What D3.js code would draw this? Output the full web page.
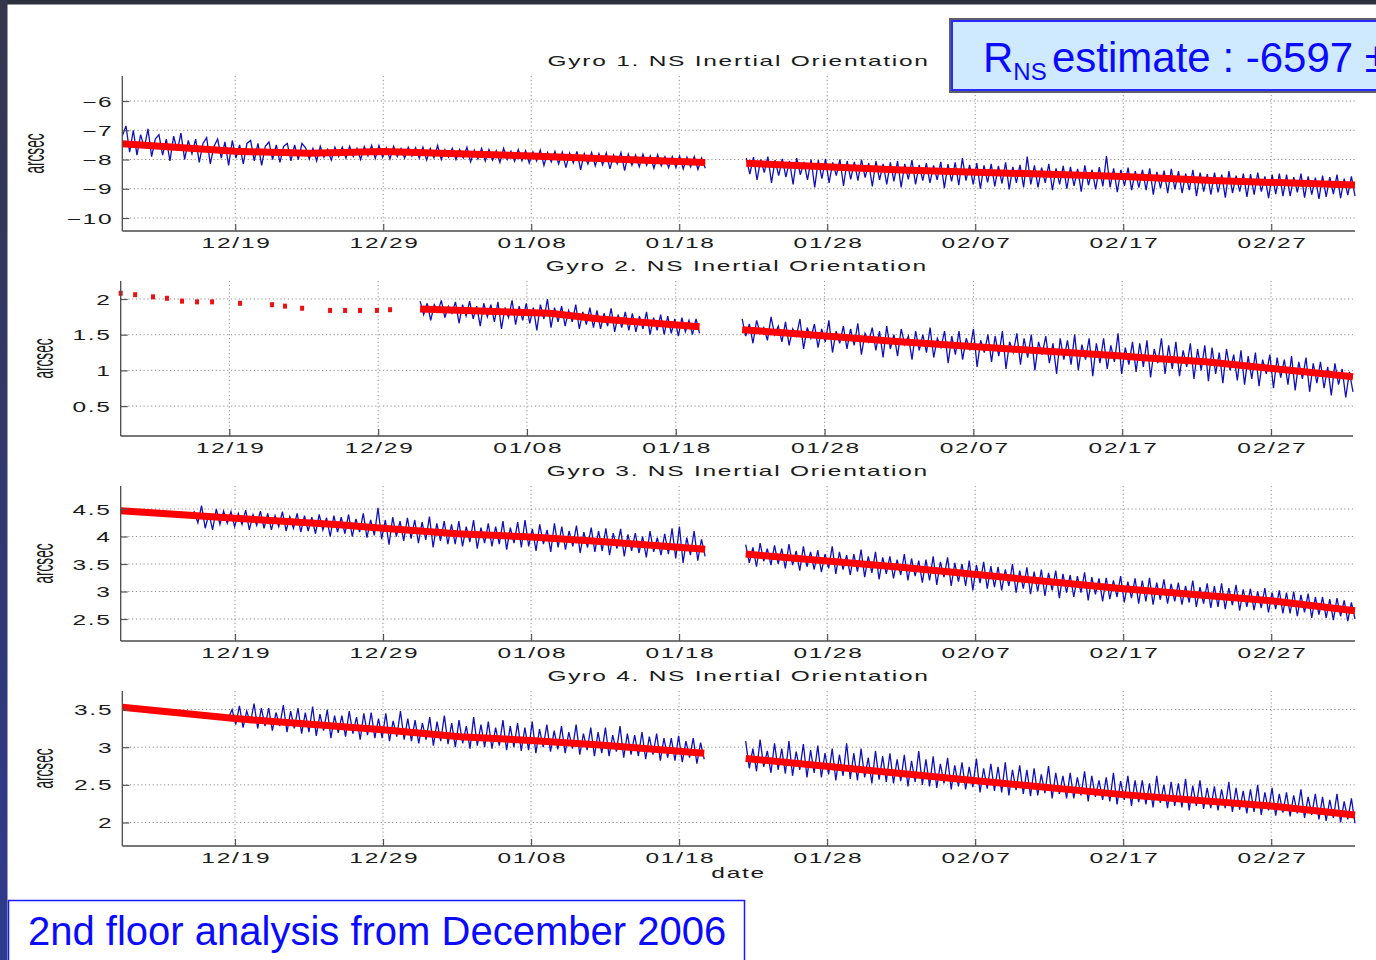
<!DOCTYPE html>
<html>
<head>
<meta charset="utf-8">
<script src="https://cdn.jsdelivr.net/npm/d3@7"></script>
<style>
  body { margin: 0; background: #ffffff; }
  svg { display: block; }
</style>
</head>
<body>
<svg id="chart" width="1376" height="960"></svg>
<script>
// ---- Time base: all sample times are days after 19 Dec 2006 (UTC) ----
const EPOCH = Date.UTC(2006, 11, 19);
const tickDays = [0, 10, 20, 30, 40, 50, 60, 70];
const tickLabels = ["12/19", "12/29", "01/08", "01/18", "01/28", "02/07", "02/17", "02/27"];

const titles = [
  "Gyro 1. NS Inertial Orientation",
  "Gyro 2. NS Inertial Orientation",
  "Gyro 3. NS Inertial Orientation",
  "Gyro 4. NS Inertial Orientation"
];
const yTicks = [
  [-6, -7, -8, -9, -10],
  [2, 1.5, 1, 0.5],
  [4.5, 4, 3.5, 3, 2.5],
  [3.5, 3, 2.5, 2]
];
const yLimits = [
  [-10.444, -5.145],
  [0.081, 2.252],
  [2.1, 4.918],
  [1.688, 3.746]
];

// ---- Gyro 1 (arcsec); each segment is evenly sampled over its [first, last] day span ----
const gyro1Seg1Days = [-7.63, 31.76];
const gyro1Seg1 = [
  -7.20, -6.85, -7.75, -7.00, -7.85, -7.15, -7.60, -6.95, -7.90, -7.30,
  -7.15, -7.85, -7.30, -8.05, -7.20, -7.70, -7.10, -8.00, -7.35, -7.80,
  -7.30, -8.10, -7.45, -7.25, -8.15, -7.55, -7.30, -7.95, -7.40, -8.20,
  -7.35, -7.95, -7.50, -8.15, -7.45, -7.35, -8.05, -7.45, -8.20, -7.55,
  -7.40, -8.00, -7.50, -8.10, -7.55, -7.45, -8.05, -7.50, -8.00, -7.45,
  -7.60, -7.98, -7.62, -8.05, -7.55, -7.92, -7.65, -8.02, -7.58, -7.90,
  -7.58, -7.95, -7.55, -7.90, -7.62, -8.00, -7.56, -7.88, -7.52, -7.96,
  -7.52, -7.92, -7.60, -7.98, -7.55, -7.90, -7.62, -7.95, -7.58, -7.88,
  -7.60, -7.95, -7.58, -8.02, -7.62, -7.94, -7.52, -8.00, -7.66, -7.92,
  -7.62, -8.00, -7.66, -7.95, -7.58, -8.08, -7.68, -7.98, -7.62, -8.05,
  -7.66, -8.02, -7.70, -8.10, -7.62, -8.00, -7.72, -8.06, -7.66, -8.04,
  -7.70, -8.12, -7.74, -8.05, -7.68, -8.20, -7.76, -8.08, -7.72, -8.15,
  -7.75, -8.28, -7.78, -8.12, -7.72, -8.35, -7.80, -8.15, -7.76, -8.22,
  -7.80, -8.18, -7.78, -8.32, -7.85, -8.15, -7.76, -8.38, -7.82, -8.20,
  -7.85, -8.25, -7.82, -8.20, -7.88, -8.30, -7.84, -8.22, -7.90, -8.28,
  -7.90, -8.28, -7.88, -8.32, -7.92, -8.25, -7.90, -8.34, -7.95, -8.30
];
const gyro1Seg2Days = [34.53, 75.66];
const gyro1Seg2 = [
  -7.95, -8.50, -7.92, -8.70, -8.00, -8.45, -7.90, -8.80, -8.02, -8.55,
  -7.98, -8.60, -8.05, -8.85, -7.95, -8.52, -8.08, -8.70, -8.00, -8.95,
  -8.02, -8.65, -7.98, -8.80, -8.10, -8.55, -8.00, -8.90, -8.05, -8.68,
  -8.08, -8.72, -8.00, -8.62, -8.12, -8.92, -8.05, -8.70, -8.15, -8.85,
  -8.10, -8.75, -8.05, -8.95, -8.15, -8.68, -8.02, -8.85, -8.18, -8.72,
  -8.12, -8.80, -8.20, -8.70, -8.08, -8.98, -8.16, -8.75, -8.10, -8.88,
  -7.95, -8.72, -8.18, -8.85, -8.12, -9.00, -8.20, -8.78, -8.15, -8.92,
  -8.22, -8.82, -8.10, -9.02, -8.25, -8.80, -8.18, -8.95, -7.90, -8.85,
  -8.20, -8.95, -8.28, -8.80, -8.15, -9.05, -8.30, -8.85, -8.22, -9.00,
  -8.25, -8.90, -8.32, -9.10, -8.20, -8.88, -8.35, -9.02, -8.26, -8.92,
  -7.88, -8.95, -8.30, -9.12, -8.35, -8.90, -8.28, -9.05, -8.40, -8.96,
  -8.35, -9.05, -8.30, -9.20, -8.42, -8.98, -8.38, -9.15, -8.32, -9.02,
  -8.40, -9.15, -8.48, -9.05, -8.35, -9.25, -8.45, -9.10, -8.50, -9.20,
  -8.45, -9.12, -8.52, -9.30, -8.40, -9.15, -8.55, -9.10, -8.48, -9.28,
  -8.50, -9.20, -8.45, -9.10, -8.58, -9.32, -8.52, -9.18, -8.48, -9.25,
  -8.52, -9.25, -8.60, -9.12, -8.48, -9.30, -8.58, -9.20, -8.62, -9.35,
  -8.55, -9.28, -8.60, -9.18, -8.52, -9.32, -8.65, -9.22, -8.58, -9.25
];
const gyro1Fit1 = [[-7.63, -7.46], [0, -7.72], [5, -7.79], [10, -7.73], [15, -7.80], [20, -7.88], [31.76, -8.10]];
const gyro1Fit2 = [[34.53, -8.13], [45, -8.36], [60, -8.58], [66, -8.72], [75.66, -8.87]];

// ---- Gyro 2 (arcsec) ----
const gyro2DotDays = [-7.30, -6.33, -5.13, -4.19, -3.18, -2.17, -1.16, 0.72, 2.87, 3.74, 4.89, 6.77, 7.78, 8.78, 9.92, 10.80];
const gyro2Dots = [2.08, 2.06, 2.03, 2.01, 1.97, 1.96, 1.96, 1.94, 1.92, 1.90, 1.87, 1.84, 1.84, 1.84, 1.84, 1.85];
const gyro2Seg1Days = [12.82, 31.6];
const gyro2Seg1 = [
  1.97, 1.78, 1.94, 1.70, 1.92, 1.82, 1.98, 1.74, 1.90, 1.80,
  1.96, 1.66, 1.92, 1.76, 1.97, 1.72, 1.90, 1.62, 1.94, 1.75,
  1.92, 1.68, 1.96, 1.58, 1.88, 1.74, 1.98, 1.64, 1.90, 1.70,
  1.94, 1.66, 1.88, 1.56, 1.92, 1.72, 2.00, 1.60, 1.88, 1.68,
  1.90, 1.62, 1.84, 1.68, 1.92, 1.58, 1.82, 1.64, 1.88, 1.60,
  1.84, 1.58, 1.80, 1.62, 1.87, 1.54, 1.78, 1.60, 1.82, 1.56,
  1.80, 1.54, 1.76, 1.58, 1.82, 1.50, 1.74, 1.56, 1.78, 1.50,
  1.76, 1.52, 1.72, 1.48, 1.74, 1.54, 1.70, 1.50, 1.72, 1.52
];
const gyro2Seg2Days = [34.46, 75.51];
const gyro2Seg2 = [
  1.72, 1.48, 1.65, 1.38, 1.70, 1.52, 1.60, 1.42, 1.75, 1.50,
  1.62, 1.40, 1.68, 1.35, 1.58, 1.48, 1.72, 1.30, 1.60, 1.45,
  1.65, 1.32, 1.58, 1.40, 1.70, 1.25, 1.55, 1.38, 1.62, 1.30,
  1.58, 1.35, 1.66, 1.22, 1.52, 1.40, 1.60, 1.28, 1.55, 1.18,
  1.62, 1.30, 1.50, 1.20, 1.58, 1.36, 1.48, 1.15, 1.55, 1.28,
  1.50, 1.25, 1.60, 1.18, 1.45, 1.32, 1.55, 1.10, 1.48, 1.22,
  1.55, 1.15, 1.45, 1.28, 1.58, 1.05, 1.42, 1.25, 1.50, 1.12,
  1.48, 1.20, 1.55, 1.02, 1.40, 1.25, 1.52, 1.08, 1.45, 1.18,
  1.50, 1.00, 1.40, 1.22, 1.48, 1.10, 1.38, 0.95, 1.45, 1.15,
  1.42, 1.08, 1.50, 1.00, 1.36, 1.15, 1.45, 0.92, 1.38, 1.10,
  1.45, 1.02, 1.35, 1.12, 1.52, 0.95, 1.32, 1.08, 1.40, 0.98,
  1.38, 1.05, 1.42, 0.90, 1.30, 1.10, 1.45, 0.95, 1.35, 1.02,
  1.40, 0.92, 1.28, 1.05, 1.38, 0.88, 1.30, 1.00, 1.35, 0.85,
  1.32, 0.95, 1.25, 0.82, 1.30, 1.00, 1.22, 0.86, 1.28, 0.80,
  1.20, 0.88, 1.25, 0.78, 1.15, 0.95, 1.22, 0.75, 1.18, 0.90,
  1.15, 0.80, 1.20, 0.72, 1.12, 0.88, 1.18, 0.70, 1.10, 0.82,
  1.12, 0.75, 1.05, 0.65, 1.10, 0.80, 1.02, 0.62, 0.98, 0.70
];
const gyro2Fit1 = [[12.82, 1.86], [21.55, 1.80], [24.9, 1.72], [31.6, 1.61]];
const gyro2Fit2 = [[34.46, 1.57], [38.35, 1.51], [45.07, 1.40], [59.99, 1.20], [61.2, 1.18], [65.6, 1.12], [69.9, 1.03], [75.51, 0.91]];

// ---- Gyro 3 (arcsec) ----
const gyro3Seg1Days = [-7.72, 31.76];
const gyro3Seg1 = [
  4.48, 4.46, 4.47, 4.45, 4.46, 4.44, 4.45, 4.43, 4.45, 4.42,
  4.44, 4.41, 4.43, 4.40, 4.42, 4.38, 4.41, 4.37, 4.40, 4.38,
  4.45, 4.25, 4.56, 4.15, 4.42, 4.12, 4.50, 4.22, 4.46, 4.24,
  4.45, 4.18, 4.42, 4.22, 4.48, 4.12, 4.40, 4.20, 4.46, 4.15,
  4.42, 4.12, 4.38, 4.18, 4.45, 4.10, 4.36, 4.15, 4.42, 4.08,
  4.38, 4.10, 4.35, 4.05, 4.40, 4.12, 4.34, 4.00, 4.38, 4.08,
  4.35, 4.05, 4.40, 4.00, 4.32, 4.08, 4.42, 3.98, 4.30, 4.02,
  4.52, 3.95, 4.30, 3.85, 4.35, 4.00, 4.28, 3.92, 4.34, 3.96,
  4.30, 3.88, 4.26, 3.94, 4.36, 3.80, 4.24, 3.92, 4.28, 3.86,
  4.22, 3.86, 4.28, 3.82, 4.18, 3.90, 4.30, 3.78, 4.16, 3.88,
  4.24, 3.82, 4.18, 3.86, 4.28, 3.76, 4.16, 3.88, 4.26, 3.80,
  4.30, 3.82, 4.14, 3.74, 4.22, 3.86, 4.12, 3.72, 4.24, 3.80,
  4.18, 3.76, 4.10, 3.82, 4.20, 3.70, 4.08, 3.80, 4.16, 3.72,
  4.10, 3.74, 4.15, 3.66, 4.06, 3.78, 4.14, 3.64, 4.04, 3.74,
  4.06, 3.70, 4.00, 3.62, 4.10, 3.72, 3.98, 3.66, 4.05, 3.68,
  4.15, 3.60, 4.18, 3.52, 3.98, 3.66, 4.10, 3.56, 3.95, 3.64
];
const gyro3Seg2Days = [34.5, 75.66];
const gyro3Seg2 = [
  3.85, 3.52, 3.80, 3.45, 3.88, 3.55, 3.78, 3.48, 3.84, 3.50,
  3.78, 3.42, 3.86, 3.48, 3.74, 3.38, 3.82, 3.45, 3.72, 3.40,
  3.75, 3.35, 3.68, 3.42, 3.82, 3.32, 3.72, 3.40, 3.66, 3.30,
  3.68, 3.36, 3.76, 3.26, 3.64, 3.34, 3.72, 3.22, 3.62, 3.32,
  3.64, 3.24, 3.58, 3.30, 3.68, 3.20, 3.60, 3.28, 3.56, 3.16,
  3.58, 3.20, 3.64, 3.12, 3.54, 3.26, 3.62, 3.10, 3.52, 3.18,
  3.50, 3.10, 3.56, 3.02, 3.48, 3.15, 3.54, 3.05, 3.46, 3.08,
  3.45, 3.02, 3.40, 3.10, 3.50, 2.98, 3.38, 3.05, 3.44, 2.95,
  3.36, 3.00, 3.40, 2.92, 3.34, 3.02, 3.38, 2.88, 3.32, 2.98,
  3.30, 2.90, 3.28, 2.98, 3.35, 2.84, 3.26, 2.95, 3.24, 2.82,
  3.25, 2.86, 3.20, 2.90, 3.28, 2.80, 3.18, 2.88, 3.24, 2.78,
  3.20, 2.82, 3.25, 2.76, 3.16, 2.85, 3.22, 2.78, 3.14, 2.82,
  3.16, 2.76, 3.10, 2.80, 3.20, 2.72, 3.08, 2.78, 3.15, 2.70,
  3.10, 2.72, 3.15, 2.68, 3.06, 2.75, 3.12, 2.65, 3.04, 2.72,
  3.05, 2.66, 3.00, 2.70, 3.06, 2.62, 2.98, 2.68, 3.02, 2.60,
  2.98, 2.60, 3.00, 2.55, 2.94, 2.62, 2.96, 2.52, 2.90, 2.58,
  2.90, 2.52, 2.86, 2.48, 2.88, 2.55, 2.84, 2.46, 2.80, 2.50
];
const gyro3Fit1 = [[-7.72, 4.47], [0, 4.33], [6.8, 4.22], [10, 4.15], [15, 4.05], [20, 3.99], [24.7, 3.91], [31.76, 3.77]];
const gyro3Fit2 = [[34.5, 3.68], [45, 3.44], [60, 3.05], [70, 2.83], [75.66, 2.65]];

// ---- Gyro 4 (arcsec) ----
const gyro4Seg1Days = [-7.61, 31.7];
const gyro4Seg1 = [
  3.54, 3.52, 3.53, 3.51, 3.52, 3.50, 3.51, 3.49, 3.50, 3.48,
  3.49, 3.47, 3.48, 3.46, 3.47, 3.45, 3.46, 3.44, 3.45, 3.43,
  3.45, 3.42, 3.44, 3.41, 3.43, 3.40, 3.44, 3.38, 3.42, 3.39,
  3.50, 3.30, 3.55, 3.26, 3.48, 3.32, 3.58, 3.25, 3.52, 3.28,
  3.52, 3.22, 3.46, 3.28, 3.56, 3.20, 3.48, 3.25, 3.52, 3.18,
  3.46, 3.20, 3.54, 3.15, 3.44, 3.22, 3.50, 3.12, 3.42, 3.19,
  3.42, 3.14, 3.48, 3.18, 3.40, 3.10, 3.45, 3.16, 3.46, 3.12,
  3.38, 3.12, 3.45, 3.08, 3.35, 3.14, 3.48, 3.10, 3.38, 3.08,
  3.36, 3.05, 3.32, 3.10, 3.40, 3.02, 3.34, 3.08, 3.42, 3.04,
  3.32, 3.00, 3.36, 3.05, 3.28, 2.98, 3.40, 3.02, 3.30, 3.00,
  3.34, 2.98, 3.26, 3.02, 3.36, 2.96, 3.28, 3.00, 3.32, 2.95,
  3.26, 2.96, 3.34, 2.92, 3.24, 3.00, 3.30, 2.94, 3.22, 2.97,
  3.28, 2.92, 3.20, 2.98, 3.30, 2.90, 3.18, 2.96, 3.26, 2.88,
  3.20, 2.92, 3.26, 2.88, 3.16, 2.94, 3.28, 2.86, 3.18, 2.90,
  3.16, 2.88, 3.20, 2.84, 3.14, 2.90, 3.18, 2.82, 3.12, 2.86,
  3.12, 2.82, 3.15, 2.80, 3.08, 2.86, 3.12, 2.78, 3.06, 2.84
];
const gyro4Seg2Days = [34.5, 75.66];
const gyro4Seg2 = [
  3.08, 2.72, 2.98, 2.68, 3.10, 2.74, 2.95, 2.66, 3.05, 2.70,
  2.98, 2.65, 3.08, 2.62, 2.94, 2.70, 3.04, 2.60, 2.96, 2.66,
  3.02, 2.60, 2.92, 2.64, 2.98, 2.56, 2.90, 2.62, 3.05, 2.58,
  2.92, 2.56, 2.98, 2.60, 2.86, 2.52, 2.95, 2.57, 2.88, 2.54,
  2.92, 2.52, 2.84, 2.55, 2.90, 2.48, 2.82, 2.54, 2.95, 2.50,
  2.84, 2.48, 2.88, 2.46, 2.78, 2.52, 2.86, 2.44, 2.76, 2.48,
  2.80, 2.44, 2.74, 2.47, 2.85, 2.40, 2.72, 2.45, 2.78, 2.42,
  2.74, 2.40, 2.80, 2.36, 2.70, 2.43, 2.76, 2.38, 2.70, 2.35,
  2.72, 2.36, 2.64, 2.39, 2.75, 2.32, 2.66, 2.38, 2.62, 2.32,
  2.66, 2.32, 2.60, 2.36, 2.68, 2.28, 2.62, 2.34, 2.56, 2.30,
  2.60, 2.28, 2.66, 2.24, 2.55, 2.30, 2.62, 2.22, 2.56, 2.27,
  2.56, 2.24, 2.52, 2.20, 2.62, 2.26, 2.50, 2.19, 2.54, 2.22,
  2.52, 2.20, 2.58, 2.16, 2.49, 2.22, 2.56, 2.18, 2.46, 2.19,
  2.48, 2.16, 2.44, 2.19, 2.54, 2.14, 2.46, 2.17, 2.42, 2.12,
  2.44, 2.14, 2.50, 2.10, 2.40, 2.16, 2.46, 2.09, 2.38, 2.13,
  2.40, 2.08, 2.36, 2.12, 2.44, 2.06, 2.34, 2.10, 2.38, 2.04,
  2.34, 2.02, 2.30, 2.06, 2.38, 2.00, 2.28, 2.04, 2.32, 1.99
];
const gyro4Fit1 = [[-7.61, 3.53], [0, 3.38], [10, 3.23], [15.2, 3.14], [20, 3.09], [24.7, 3.03], [31.7, 2.92]];
const gyro4Fit2 = [[34.5, 2.85], [45, 2.65], [60, 2.37], [70, 2.22], [75.66, 2.10]];

// ---- Assemble panels ----
const series = [
  { segs: [[gyro1Seg1Days, gyro1Seg1], [gyro1Seg2Days, gyro1Seg2]], fits: [gyro1Fit1, gyro1Fit2] },
  { segs: [[gyro2Seg1Days, gyro2Seg1], [gyro2Seg2Days, gyro2Seg2]], fits: [gyro2Fit1, gyro2Fit2],
    dots: gyro2DotDays.map((d, i) => [d, gyro2Dots[i]]) },
  { segs: [[gyro3Seg1Days, gyro3Seg1], [gyro3Seg2Days, gyro3Seg2]], fits: [gyro3Fit1, gyro3Fit2] },
  { segs: [[gyro4Seg1Days, gyro4Seg1], [gyro4Seg2Days, gyro4Seg2]], fits: [gyro4Fit1, gyro4Fit2] }
];

// page layout of the four axes boxes
const layout = [
  { top: 76,  bottom: 231, left: 122.3, right: 1355, ylabelX: 43.5 },
  { top: 281, bottom: 436, left: 120.7, right: 1353, ylabelX: 52.5 },
  { top: 486, bottom: 641, left: 120.7, right: 1355, ylabelX: 52.5 },
  { top: 691, bottom: 846, left: 122.3, right: 1355, ylabelX: 52.5 }
];

const toDate = d => new Date(EPOCH + d * 864e5);
const segPoints = ([span, vals]) => {
  const n = vals.length, step = (span[1] - span[0]) / (n - 1);
  return vals.map((v, i) => [span[0] + i * step, v]);
};

const svg = d3.select("#chart");

// slide frame
const defs = svg.append("defs");
const grad = defs.append("linearGradient").attr("id", "sideBar")
  .attr("x1", 0).attr("y1", 0).attr("x2", 0).attr("y2", 1);
grad.append("stop").attr("offset", "0%").attr("stop-color", "#34364c");
grad.append("stop").attr("offset", "100%").attr("stop-color", "#2f3a8e");
svg.append("rect").attr("width", 1376).attr("height", 960).attr("fill", "#ffffff");
svg.append("rect").attr("x", 0).attr("y", 0).attr("width", 1376).attr("height", 4.5).attr("fill", "#2e3040");
svg.append("rect").attr("x", 0).attr("y", 0).attr("width", 7.5).attr("height", 960).attr("fill", "url(#sideBar)");

const FONT = "'Liberation Sans', Arial, Helvetica, sans-serif";
const SX = 1.75;    // wide figure-text look
const LS = 1;       // letter spacing of figure text

series.forEach((s, k) => {
  const L = layout[k];
  const allDays = s.segs.flatMap(g => g[0]).concat(s.dots ? s.dots.map(p => p[0]) : []);
  const x = d3.scaleUtc().domain(d3.extent(allDays).map(toDate)).range([L.left, L.right]);
  const y = d3.scaleLinear().domain(yLimits[k]).range([L.bottom, L.top]);
  const g = svg.append("g");

  // grid
  const grid = g.append("g").attr("stroke", "#8c8c8c").attr("stroke-width", 1)
    .attr("stroke-dasharray", "1.2,2.6").attr("fill", "none");
  yTicks[k].forEach(v => grid.append("line")
    .attr("x1", L.left).attr("x2", L.right).attr("y1", y(v)).attr("y2", y(v)));
  tickDays.forEach(d => grid.append("line")
    .attr("x1", x(toDate(d))).attr("x2", x(toDate(d))).attr("y1", L.top).attr("y2", L.bottom));

  // measured series
  const line = d3.line().x(p => x(toDate(p[0]))).y(p => y(p[1]));
  s.segs.forEach(seg => g.append("path").datum(segPoints(seg)).attr("d", line)
    .attr("fill", "none").attr("stroke", "#1010b8").attr("stroke-width", 1.3));
  if (s.dots) {
    g.append("g").selectAll("rect").data(s.dots).join("rect")
      .attr("x", p => x(toDate(p[0])) - 2).attr("y", p => y(p[1]) - 2.5)
      .attr("width", 4).attr("height", 5).attr("fill", "#ee1111");
  }
  // fitted trend
  s.fits.forEach(f => g.append("path").datum(f).attr("d", line)
    .attr("fill", "none").attr("stroke", "#ff0000").attr("stroke-width", 7));

  // axes
  const xAxis = d3.axisBottom(x).tickValues(tickDays.map(toDate))
    .tickFormat((d, i) => tickLabels[i]).tickSize(-7).tickSizeOuter(0);
  const gx = g.append("g").attr("transform", `translate(0,${L.bottom})`).call(xAxis);
  gx.select(".domain").attr("d", `M${L.left},0H${L.right}`);
  const yAxis = d3.axisLeft(y).tickValues(yTicks[k]).tickFormat(d3.format("")).tickSize(-7).tickSizeOuter(0);
  const gy = g.append("g").attr("transform", `translate(${L.left},0)`).call(yAxis);
  gy.select(".domain").attr("d", `M0,${L.top}V${L.bottom}`);
  [gx, gy].forEach(a => {
    a.select(".domain").attr("stroke", "#4a4a4a").attr("stroke-width", 1.3);
    a.selectAll(".tick line").attr("stroke", "#555").attr("stroke-width", 1.2);
    a.selectAll("text").attr("font-family", FONT).attr("font-size", 14)
      .attr("letter-spacing", LS).attr("fill", "#1a1a1a");
  });
  gx.selectAll(".tick text").attr("y", 17).attr("dy", 0).attr("dx", LS / 2)
    .attr("transform", `scale(${SX},1)`);
  gy.selectAll(".tick text").attr("x", -9 / SX).attr("y", 5).attr("dy", 0)
    .attr("transform", `scale(${SX},1)`);

  // title
  g.append("text").attr("transform", `translate(${(L.left + L.right) / 2},${L.top - 10}) scale(${SX},1)`)
    .attr("text-anchor", "middle").attr("font-family", FONT).attr("font-size", 14)
    .attr("letter-spacing", LS).attr("fill", "#1a1a1a").text(titles[k]);

  // y label
  g.append("text")
    .attr("transform", `translate(${L.ylabelX},${(L.top + L.bottom) / 2}) rotate(-90) scale(0.47,1)`)
    .attr("text-anchor", "middle").attr("font-family", FONT).attr("font-size", 29)
    .attr("fill", "#1a1a1a").text("arcsec");

  if (k === 3) {
    g.append("text").attr("transform", `translate(${(L.left + L.right) / 2},878) scale(${SX},1)`)
      .attr("text-anchor", "middle").attr("font-family", FONT).attr("font-size", 14)
      .attr("letter-spacing", LS).attr("fill", "#1a1a1a").text("date");
  }
});

// estimate call-out box
const box = svg.append("g");
box.append("rect").attr("x", 949).attr("y", 18).attr("width", 460).attr("height", 75)
  .attr("fill", "#5c5c6c");
box.append("rect").attr("x", 952).attr("y", 21).attr("width", 460).attr("height", 69)
  .attr("fill", "#cfe9ff").attr("stroke", "#2a2aff").attr("stroke-width", 2);
const est = box.append("text").attr("y", 72).attr("font-family", FONT).attr("fill", "#0a0aff");
est.append("tspan").attr("x", 983).attr("font-size", 42).text("R");
est.append("tspan").attr("font-size", 24).attr("dy", 8).text("NS");
est.append("tspan").attr("x", 1052).attr("dy", -8).attr("font-size", 42).text("estimate : -6597 ±");

// footer caption box
svg.append("rect").attr("x", 8.5).attr("y", 900.5).attr("width", 736).attr("height", 80)
  .attr("fill", "#ffffff").attr("stroke", "#1a1aff").attr("stroke-width", 1.5);
svg.append("text").attr("x", 28).attr("y", 945).attr("font-family", FONT).attr("font-size", 40)
  .attr("fill", "#0a0aff").text("2nd floor analysis from December 2006");
</script>
</body>
</html>
